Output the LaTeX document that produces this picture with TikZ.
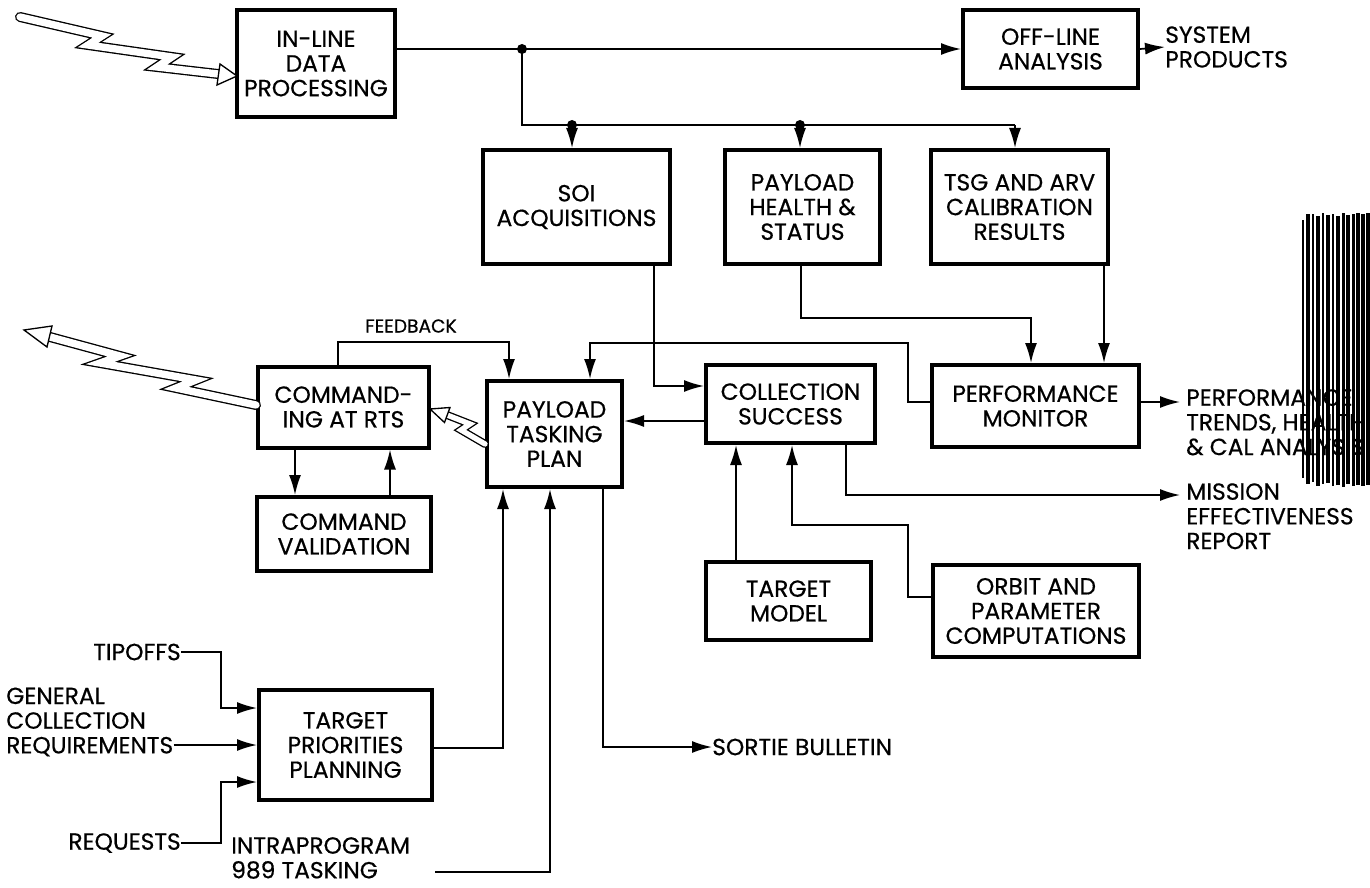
\documentclass[tikz,border=0pt]{standalone}
\usepackage{fontspec}
\setmainfont{Poppins}[FakeBold=0.5]
\usetikzlibrary{arrows.meta}
\newcommand\lbl{\fontsize{17.5}{18.5}\selectfont}
\newcommand\smlbl{\fontsize{14}{16}\selectfont}
\begin{document}
\begin{tikzpicture}[x=0.75pt,y=-0.75pt,
  box/.style={draw, line width=3pt, align=center, inner sep=0pt, font=\lbl},
  conn/.style={line width=1.3pt},
  arr/.style={conn, -{Latex[length=15pt,width=9pt]}},
  lab/.style={align=left, inner sep=0pt, font=\lbl},
  jdot/.style={circle, fill, inner sep=0pt, minimum size=7.5pt},
  bolt/.style={line width=1pt, double=white, double distance=5.5pt, line join=miter, line cap=round},
  smallbolt/.style={line width=1pt, double=white, double distance=4pt, line join=miter, line cap=round},
  bolthead/.style={draw, line width=1pt, fill=white, line join=miter}
]
\useasboundingbox (0,0) rectangle (1370,888);
\fill[white] (0,0) rectangle (1370,888);

% ---------- boxes ----------
\node[box, minimum width=118.5pt, minimum height=80.25pt] (inl) at (316,63.5) {IN-LINE\\DATA\\PROCESSING};
\node[box, minimum width=131.25pt, minimum height=58.5pt] (off) at (1050.5,49) {OFF-LINE\\ANALYSIS};
\node[box, minimum width=140.25pt, minimum height=85.5pt] (soi) at (576.5,207) {SOI\\ACQUISITIONS};
\node[box, minimum width=116.25pt, minimum height=85.5pt] (phs) at (802.5,207) {PAYLOAD\\HEALTH \&\\STATUS};
\node[box, minimum width=132.75pt, minimum height=85.5pt] (tsg) at (1019.5,207) {TSG AND ARV\\CALIBRATION\\RESULTS};
\node[box, minimum width=128.25pt, minimum height=60.75pt] (cmd) at (343.5,407) {COMMAND-\\ING AT RTS};
\node[box, minimum width=101.25pt, minimum height=79.5pt] (ptp) at (554.5,434) {PAYLOAD\\TASKING\\PLAN};
\node[box, minimum width=126.75pt, minimum height=58.5pt] (col) at (790.5,404) {COLLECTION\\SUCCESS};
\node[box, minimum width=155.25pt, minimum height=61.5pt] (perf) at (1035.5,406) {PERFORMANCE\\MONITOR};
\node[box, minimum width=130.5pt, minimum height=55.5pt] (val) at (344,534) {COMMAND\\VALIDATION};
\node[box, minimum width=123.75pt, minimum height=58.5pt] (tm) at (788.5,601) {TARGET\\MODEL};
\node[box, minimum width=154.5pt, minimum height=69pt] (orb) at (1036,611) {ORBIT AND\\PARAMETER\\COMPUTATIONS};
\node[box, minimum width=129.75pt, minimum height=82.5pt] (tpp) at (345.5,745) {TARGET\\PRIORITIES\\PLANNING};

% ---------- free labels ----------
\node[lab, anchor=west] (sysp) at (1165,47) {SYSTEM\\PRODUCTS};
\node[lab, anchor=north west] (trends) at (1186,389) {PERFORMANCE\\TRENDS, HEALTH\\\& CAL ANALYSIS};
\node[lab, anchor=north west] (mission) at (1186,483) {MISSION\\EFFECTIVENESS\\REPORT};
\node[font=\smlbl, inner sep=0pt] (fb) at (411,326) {FEEDBACK};
\node[lab, anchor=west] (sortie) at (712,747) {SORTIE BULLETIN};
\node[lab, anchor=east] (tip) at (181,652) {TIPOFFS};
\node[lab, anchor=west] (gen) at (6,722) {GENERAL\\COLLECTION\\REQUIREMENTS};
\node[lab, anchor=east] (req) at (181,843) {REQUESTS};
\node[lab, anchor=west] (intra) at (231,858) {INTRAPROGRAM\\989 TASKING};
\coordinate (i0) at (435,872);

% ---------- top bus ----------
\coordinate (j1) at (522,0 |- off.west);
\coordinate (b1) at (572,125);
\coordinate (b2) at (800,125);
\coordinate (b3) at (1015,125);
\draw[arr] (inl.east |- off.west) -- (off.west);
\draw[arr] (off.east) -- (sysp.west);
\draw[conn] (j1) |- (b3);
\draw[arr] (b3) -- (b3 |- tsg.north);
\draw[arr] (b1) -- (b1 |- soi.north);
\draw[arr] (b2) -- (b2 |- phs.north);
\node[jdot] at (j1) {};
\node[jdot] at (b1) {};
\node[jdot] at (b2) {};

% ---------- middle ----------
\draw[arr] (654,0 |- soi.south) |- (col.west |- 0,386);
\draw[arr] (801,0 |- phs.south) |- (1031,318) -- (1031,0 |- perf.north);
\draw[arr] (1104,0 |- tsg.south) -- (1104,0 |- perf.north);
\draw[arr] (perf.west |- 0,402) -| (908,343) -| (590,0 |- ptp.north);
\draw[arr] (col.west |- 0,421) -- (ptp.east |- 0,421);
\draw[arr] (338,0 |- cmd.north) |- (509,342) -- (509,0 |- ptp.north);
\draw[arr] (295,0 |- cmd.south) -- (295,0 |- val.north);
\draw[arr] (390,0 |- val.north) -- (390,0 |- cmd.south);
\draw[arr] (perf.east |- 0,402) -- (1180,402);
\draw[arr] (736,0 |- tm.north) -- (736,0 |- col.south);
\draw[arr] (orb.west |- 0,597) -| (908,525) -| (792,0 |- col.south);
\draw[arr] (846,0 |- col.south) |- (1180,495);

% ---------- bottom ----------
\draw[arr] (tpp.east |- 0,748) -| (503,0 |- ptp.south);
\draw[arr] (i0) -| (550,0 |- ptp.south);
\draw[arr] (603,0 |- ptp.south) |- (sortie.west);
\draw[arr] (tip.east) -| (221,708) -- (tpp.west |- 0,708);
\draw[arr] (gen.east |- 0,745) -- (tpp.west |- 0,745);
\draw[arr] (req.east) -| (221,782) -- (tpp.west |- 0,782);

% ---------- lightning bolts ----------
\draw[bolt] (20,17) -- (102,36) -- (88,45) -- (172,57) -- (157,67) -- (218,74);
\draw[bolthead] (237,76) -- (220,64) -- (217,85) -- cycle;

\draw[bolt] (50,337) -- (120,356) -- (100,363) -- (196,380) -- (176,388) -- (cmd.west |- 0,405);
\draw[bolthead] (24,330) -- (52,326) -- (47,347) -- cycle;

\draw[smallbolt] (ptp.west |- 0,444) -- (461,430) -- (470,424) -- (447,415);
\draw[bolthead] (430,409) -- (450,407.5) -- (444.5,422.5) -- cycle;

% ---------- hatched strip on the right ----------
\foreach \x/\w/\t/\b in {1303/2.5/220/478, 1308/3.5/214/484, 1313/2.5/214/482, 1318/3.5/216/486,
  1323/2.5/213/484, 1328/3.5/215/483, 1333/2.5/214/486, 1338/3.5/216/485, 1343/3/213/487,
  1348/4/215/484, 1353/3/214/486, 1358/4/213/485, 1363/3.5/214/486, 1368/4/213/485}
  \draw[line width=\w*0.75pt] (\x,\t) -- (\x,\b);
\end{tikzpicture}
\end{document}
